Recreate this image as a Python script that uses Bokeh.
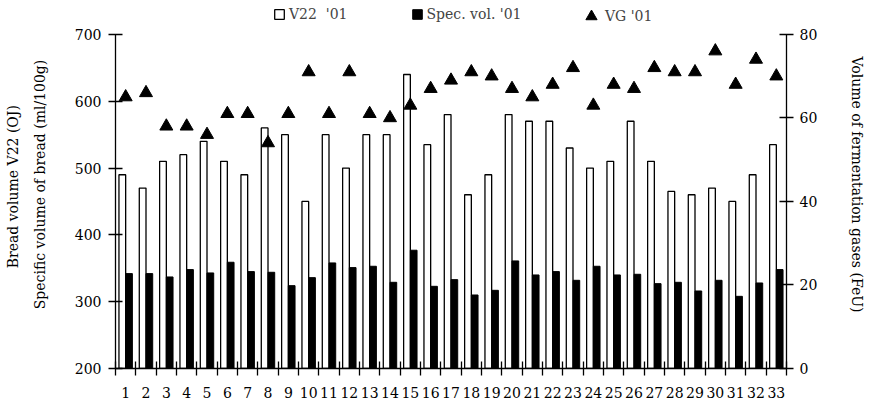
from bokeh.plotting import figure
from bokeh.models import (Range1d, LinearAxis, FixedTicker, Legend, LegendItem,
                          ColumnDataSource)
from bokeh.transform import dodge
from bokeh.embed import file_html
from bokeh.resources import INLINE

# Samples 1..33, harvest 2001
samples = list(range(1, 34))
v22_2001 = [490, 470, 510, 520, 540, 510, 490, 560, 550, 450, 550, 500,
            550, 550, 640, 535, 580, 460, 490, 580, 570, 570, 530, 500,
            510, 570, 510, 465, 460, 470, 450, 490, 535]
spec_vol_2001 = [342, 342, 337, 348, 343, 359, 345, 344, 324, 336, 358, 351,
                 353, 329, 377, 323, 333, 310, 317, 361, 340, 345, 332, 353,
                 340, 341, 327, 329, 316, 332, 308, 328, 348]
vg_2001 = [65, 66, 58, 58, 56, 61, 61, 54, 61, 71, 61, 71,
           61, 60, 63, 67, 69, 71, 70, 67, 65, 68, 72, 63,
           68, 67, 72, 71, 71, 76, 68, 74, 70]
left_ticks = [200, 300, 400, 500, 600, 700]
right_ticks = [0, 20, 40, 60, 80]

FONT = "DejaVu Serif"
FS = "14px"

# frame reaches the top of the canvas; the headroom above 700 / 80 holds the legend
HEAD = 34.0 / 335.0
left_lo, left_hi = 200, 700
right_lo, right_hi = 0, 80

src = ColumnDataSource(dict(x=samples, v22=v22_2001, spec=spec_vol_2001, vg=vg_2001))

p = figure(width=871, height=400, output_backend="svg", toolbar_location=None,
           x_range=Range1d(0.5, 33.5),
           y_range=Range1d(left_lo, left_hi + (left_hi - left_lo) * HEAD),
           min_border_left=115, min_border_right=85,
           min_border_top=0, min_border_bottom=31)
p.extra_y_ranges = {"vg": Range1d(right_lo, right_hi + (right_hi - right_lo) * HEAD)}
p.outline_line_color = None
p.xgrid.visible = False
p.ygrid.visible = False
p.background_fill_color = "white"
p.border_fill_color = "white"

r_v22 = p.vbar(x=dodge("x", -0.165), top="v22", bottom=left_lo, width=0.33,
               fill_color="white", line_color="black", line_width=1.3, source=src)
r_spec = p.vbar(x=dodge("x", 0.165), top="spec", bottom=left_lo, width=0.33,
                fill_color="black", line_color="black", line_width=1, source=src)
r_vg = p.scatter(x="x", y="vg", marker="triangle", size=13, color="black",
                 y_range_name="vg", source=src)


def style_axis(ax):
    ax.axis_line_color = "black"
    ax.axis_line_width = 1.3
    ax.major_tick_line_color = "black"
    ax.major_tick_line_width = 1.3
    ax.minor_tick_line_color = "black"
    ax.minor_tick_line_width = 1.3
    ax.major_label_text_font = FONT
    ax.major_label_text_font_size = FS
    ax.major_label_text_color = "black"
    ax.axis_label_text_font = FONT
    ax.axis_label_text_font_size = FS
    ax.axis_label_text_font_style = "normal"
    ax.axis_label_text_color = "black"


def title_axis(text, standoff, **kw):
    """A bare axis (no line, no ticks) that only carries a title."""
    ax = LinearAxis(ticker=FixedTicker(ticks=[]), axis_label=text, **kw)
    style_axis(ax)
    ax.axis_line_color = None
    ax.major_tick_line_color = None
    ax.minor_tick_line_color = None
    ax.major_tick_in = 0
    ax.major_tick_out = 0
    ax.minor_tick_in = 0
    ax.minor_tick_out = 0
    ax.major_label_standoff = 0
    ax.axis_label_standoff = standoff
    return ax


# x axis: labels at sample centres, ticks on the boundaries between samples
xax = p.xaxis[0]
style_axis(xax)
xax.ticker = FixedTicker(ticks=samples, minor_ticks=[s + 0.5 for s in range(0, 34)])
xax.major_tick_in = 0
xax.major_tick_out = 0
xax.minor_tick_in = 7
xax.minor_tick_out = 7
xax.major_label_standoff = 11

# left axis: bread volume / specific volume
yax = p.yaxis[0]
style_axis(yax)
yax.ticker = FixedTicker(ticks=left_ticks)
yax.bounds = (left_lo, left_hi)
yax.minor_tick_line_color = None
yax.major_tick_in = 7
yax.major_tick_out = 7
yax.major_label_standoff = 7

# two-line title of the left axis, inner line first
p.add_layout(title_axis("Specific volume of bread (ml/100g)", 24), "left")
p.add_layout(title_axis("Bread volume  V22 (OJ)", 8), "left")

# right axis: fermentation gases
rax = LinearAxis(y_range_name="vg", ticker=FixedTicker(ticks=right_ticks),
                 bounds=(right_lo, right_hi))
style_axis(rax)
rax.minor_tick_line_color = None
rax.major_tick_in = 7
rax.major_tick_out = 7
rax.major_label_standoff = 6
p.add_layout(rax, "right")
p.add_layout(title_axis("Volume of fermentation gases (FeU)", 28, y_range_name="vg"), "right")

legend_style = dict(orientation="horizontal", border_line_color=None,
                    background_fill_alpha=0, padding=0, margin=0,
                    label_text_font=FONT, label_text_font_size=FS)

legend_bars = Legend(items=[LegendItem(label="V22  '01", renderers=[r_v22]),
                            LegendItem(label="Spec. vol. '01", renderers=[r_spec])],
                     location=(158, 346), spacing=63, label_standoff=4,
                     glyph_width=12, glyph_height=12, label_height=12,
                     **legend_style)
legend_vg = Legend(items=[LegendItem(label="VG '01", renderers=[r_vg])],
                   location=(462, 338), label_standoff=0,
                   glyph_width=28, glyph_height=28, label_height=28,
                   **legend_style)
p.add_layout(legend_bars)
p.add_layout(legend_vg)

open("out.html", "w").write(file_html(p, INLINE))
